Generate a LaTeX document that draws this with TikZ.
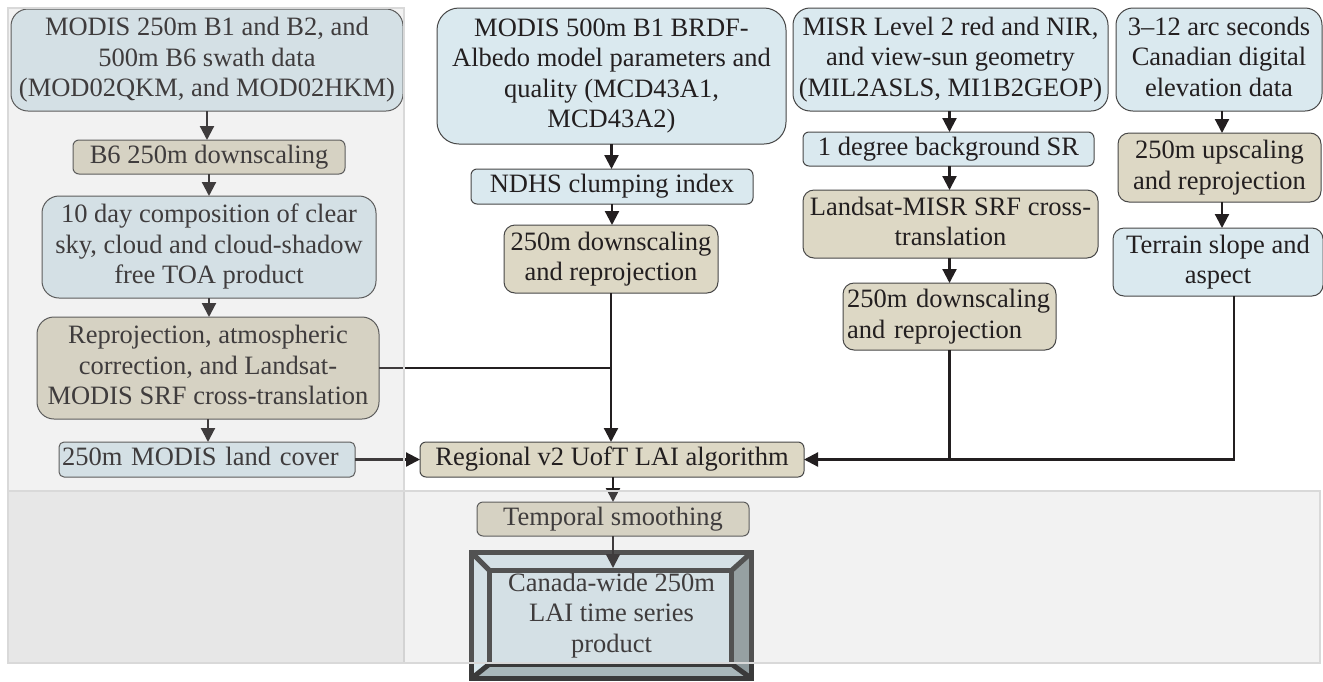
\documentclass[tikz,border=0pt]{standalone}
\usepackage{fontspec}
\setmainfont{Liberation Serif}
\usetikzlibrary{arrows.meta}
\definecolor{bluef}{HTML}{DAE9EF}
\definecolor{tanf}{HTML}{DDD8C5}
\definecolor{boxline}{HTML}{474747}
\definecolor{txt}{HTML}{231F20}
\definecolor{arrc}{HTML}{231F20}
\definecolor{panelf}{HTML}{BBBBBB}
\definecolor{panelb}{HTML}{D9D9D9}
\definecolor{bevline}{HTML}{3A3A3A}
\definecolor{bevR}{HTML}{8E9A9D}
\definecolor{bevB}{HTML}{A9B7BA}
\newcommand\figfont{\fontsize{26.5}{30.5}\selectfont}
\newcommand\ls{\rule[-5.7pt]{0pt}{23.6pt}}
\begin{document}
\begin{tikzpicture}[x=1pt,y=-1pt,
 box/.style={draw=boxline, line width=1pt, inner sep=0pt, outer sep=0pt, align=center, font=\figfont, text=txt},
 bluebox/.style={box, fill=bluef},
 tanbox/.style={box, fill=tanf},
 rc/.style={rounded corners=#1},
 sz/.style 2 args={minimum width=#1, minimum height=#2},
 arr/.style={draw=arrc, line width=2.2pt, -{Triangle[length=14pt,width=14pt]}},
 conn/.style={draw=arrc, line width=2.2pt},
 panel/.style={fill=panelf, fill opacity=0.19, draw=panelb, draw opacity=1, line width=2pt},
 canbox/.style={draw=bevline, line width=5pt, fill=bluef, inner sep=0pt, outer sep=0pt, align=center, font=\figfont, text=txt, minimum width=280pt, minimum height=126pt},
 bevel/.style={draw=bevline, line width=5pt},
]
\fill[white] (0,0) rectangle (1323,681);
\useasboundingbox (0,0) rectangle (1323,681);

% left column
\node[bluebox, rc=17pt, sz={392pt}{102pt}] (m250) at (207,60) {\ls MODIS 250m B1 and B2, and\\500m B6 swath data\\(MOD02QKM, and MOD02HKM)\ls};
\node[tanbox, rc=6pt, sz={272pt}{34pt}] (b6) at (209,157) {\ls B6 250m downscaling\ls};
\node[bluebox, rc=17pt, sz={334pt}{102pt}] (comp) at (209,247) {\ls 10 day composition of clear\\sky, cloud and cloud-shadow\\free TOA product\ls};
\node[tanbox, rc=17pt, sz={342pt}{102pt}] (repro) at (208,368) {\ls Reprojection, atmospheric\\correction, and Landsat-\\MODIS SRF cross-translation\ls};
\node[bluebox, rc=5pt, sz={296pt}{35pt}, align=left, text width=290pt] (lc) at (207,459.5) {\ls 250m MODIS land cover\ls};

% middle column
\node[bluebox, rc=22pt, sz={349pt}{136pt}] (brdf) at (611.5,76) {\ls MODIS 500m B1 BRDF-\\Albedo model parameters and\\quality (MCD43A1,\\MCD43A2)\ls};
\node[bluebox, rc=6pt, sz={282pt}{35pt}] (ndhs) at (612,186.5) {\ls NDHS clumping index\ls};
\node[tanbox, rc=11pt, sz={214pt}{68pt}] (ds1) at (611,259) {\ls 250m downscaling\\and reprojection\ls};

% third column
\node[bluebox, rc=17pt, sz={315pt}{103pt}] (misr) at (950.5,59.5) {\ls MISR Level 2 red and NIR,\\and view-sun geometry\\(MIL2ASLS, MI1B2GEOP)\ls};
\node[bluebox, rc=6pt, sz={291pt}{34pt}] (bgsr) at (948.5,149) {\ls 1 degree background SR\ls};
\node[tanbox, rc=11pt, sz={295pt}{68pt}] (lmx) at (950.5,224) {\ls Landsat-MISR SRF cross-\\translation\ls};
\node[tanbox, rc=11pt, sz={213pt}{67pt}, align=left, text width=205pt] (ds2) at (949.5,316.5) {\ls 250m downscaling\\and reprojection\ls};

% fourth column
\node[bluebox, rc=17pt, sz={206pt}{103pt}] (dem) at (1219,59.5) {\ls 3–12 arc seconds\\Canadian digital\\elevation data\ls};
\node[tanbox, rc=11pt, sz={203pt}{69pt}] (ups) at (1219.5,167.5) {\ls 250m upscaling\\and reprojection\ls};
\node[bluebox, rc=11pt, sz={210pt}{68pt}] (ter) at (1218,262) {\ls Terrain slope and\\aspect\ls};

% bottom
\node[tanbox, rc=6pt, sz={384pt}{35pt}] (reg) at (612,459.5) {\ls Regional v2 UofT LAI algorithm\ls};
\node[tanbox, rc=6pt, sz={272pt}{34pt}] (tsm) at (613,519) {\ls Temporal smoothing\ls};

% final product (bevelled box)
\node[canbox] (can) at (611.5,615.5) {\ls Canada-wide 250m\\LAI time series\\product\ls};
\coordinate (iNW) at (489.5,570.5);
\coordinate (iNE) at (731.5,570.5);
\coordinate (iSE) at (731.5,664);
\coordinate (iSW) at (489.5,664);
\fill[bevR] (can.north east) -- (iNE) -- (iSE) -- (can.south east) -- cycle;
\fill[bevB] (can.south west) -- (iSW) -- (iSE) -- (can.south east) -- cycle;
\draw[bevel] (can.north west) rectangle (can.south east);
\draw[bevel] (iNW) rectangle (iSE);
\draw[bevel] (can.north west) -- (iNW);
\draw[bevel] (can.north east) -- (iNE);
\draw[bevel] (can.south east) -- (iSE);
\draw[bevel] (can.south west) -- (iSW);
\coordinate (canin) at (611.5,568);

% connectors
\draw[arr] (m250.south) -- (m250.south |- b6.north);
\draw[arr] (b6.south) -- (b6.south |- comp.north);
\draw[arr] (comp.south) -- (comp.south |- repro.north);
\draw[arr] (repro.south) -- (repro.south |- lc.north);
\draw[arr] (lc.east) -- (reg.west);

\draw[arr] (brdf.south) -- (brdf.south |- ndhs.north);
\draw[arr] (ndhs.south) -- (ndhs.south |- ds1.north);
\draw[arr] (ds1.south) -- (ds1.south |- reg.north);
\draw[conn] (repro.east) -- (repro.east -| ds1.south);

\draw[arr] ([xshift=-1pt]misr.south) -- ([xshift=-1pt]misr.south |- bgsr.north);
\draw[arr] ([xshift=-1pt]misr.south |- bgsr.south) -- ([xshift=-1pt]misr.south |- lmx.north);
\draw[arr] ([xshift=-1pt]misr.south |- lmx.south) -- ([xshift=-1pt]misr.south |- ds2.north);
\draw[conn] ([xshift=-1pt]misr.south |- ds2.south) -- ([xshift=-1pt]misr.south |- reg.east);

\draw[arr] ([xshift=3pt]dem.south) -- ([xshift=3pt]dem.south |- ups.north);
\draw[arr] ([xshift=3pt]dem.south |- ups.south) -- ([xshift=3pt]dem.south |- ter.north);
\draw[arr] ([xshift=16pt]ter.south) |- (reg.east);

\draw[arr] (tsm.south |- reg.south) -- (tsm.north);
\draw[arr] (tsm.south) -- (tsm.south |- canin);

% translucent panels drawn over everything
\path[panel] (8,8) rectangle (404,663);
\path[panel] (8,491) rectangle (1320,663);
\end{tikzpicture}
\end{document}
